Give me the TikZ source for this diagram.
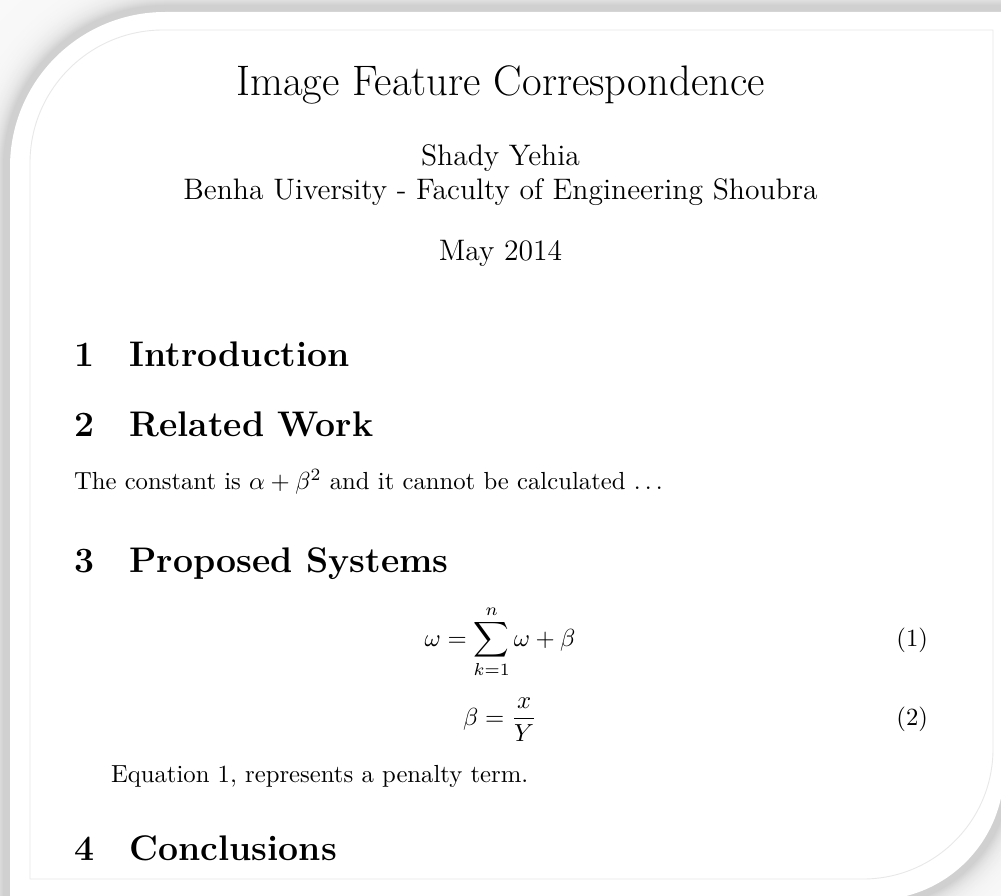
\documentclass[tikz,border=0pt]{standalone}
\newcommand\bigtxt[1]{\scalebox{2.47}{#1}}
\newcommand\spdots{.\kern.1667em.\kern.1667em.}
\newcommand\cardshape[1]{(10-#1,910) -- (10-#1,167) arc[start angle=180,end angle=270,radius=155+#1] -- (1004+#1,12-#1) -- (1004+#1,770) arc[start angle=0,end angle=90,radius=130+#1] -- (10-#1,900+#1) -- cycle}
\tikzset{
  txt/.style={inner sep=0pt, outer sep=0pt, text=black},
  border/.style={draw=black!9, line width=0.9pt}
}
\begin{document}
\begin{tikzpicture}[x=1pt,y=-1pt]
\useasboundingbox (0,0) rectangle (1001,896);
\clip (0,0) rectangle (1001,896);
\fill[black!2.5] (0,0) rectangle (1001,896);
\foreach \k in {70,69,...,1}{
  \pgfmathsetmacro\p{2.5+16*exp(-max(\k-7,0)/10)}
  \fill[black!\p] \cardshape{\k};
}
\fill[white] \cardshape{0};
\draw[border] (30,163) arc[start angle=180,end angle=270,radius=133] -- (993,30) -- (993,749) arc[start angle=0,end angle=90,radius=130] -- (30,879) -- cycle;
% title block
\node[txt, anchor=base] (title) at (500.5,96) {\bigtxt{\LARGE Image Feature Correspondence}};
\node[txt, anchor=base] (author) at (500.5,166) {\bigtxt{\large Shady Yehia}};
\node[txt, anchor=base] (affil) at (500.5,200) {\bigtxt{\large Benha Uiversity - Faculty of Engineering Shoubra}};
\node[txt, anchor=base] (date) at (500.5,260) {\bigtxt{\large May 2014}};
% sections
\node[txt, anchor=base west] (s1) at (74,366) {\bigtxt{\Large\bfseries 1\quad Introduction}};
\node[txt, anchor=base west] (s2) at (74,436) {\bigtxt{\Large\bfseries 2\quad Related Work}};
\node[txt, anchor=base west] (p1) at (74,489) {\bigtxt{The constant is $\alpha+\beta^2$ and it cannot be calculated \spdots}};
\node[txt, anchor=base west] (s3) at (74,572) {\bigtxt{\Large\bfseries 3\quad Proposed Systems}};
\node[txt, anchor=base] (eq1) at (500,646) {\bigtxt{$\displaystyle \omega=\sum_{k=1}^{n}\omega+\beta$}};
\node[txt, anchor=base east] (n1) at (928,646) {\bigtxt{(1)}};
\node[txt, anchor=base] (eq2) at (500,725) {\bigtxt{$\displaystyle \beta=\frac{x}{Y}$}};
\node[txt, anchor=base east] (n2) at (928,725) {\bigtxt{(2)}};
\node[txt, anchor=base west] (p2) at (111,782) {\bigtxt{Equation 1, represents a penalty term.}};
\node[txt, anchor=base west] (s4) at (74,860) {\bigtxt{\Large\bfseries 4\quad Conclusions}};
\end{tikzpicture}
\end{document}
